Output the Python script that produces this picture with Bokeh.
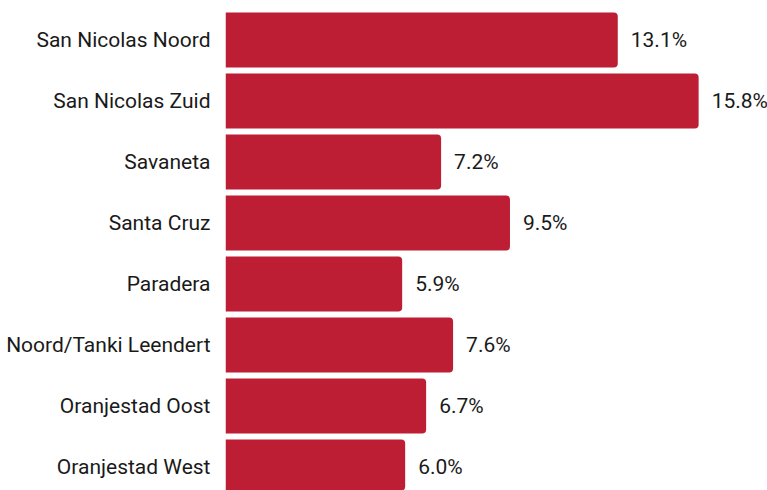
from bokeh.plotting import figure
from bokeh.models import Range1d, FixedTicker, ColumnDataSource, LabelSet
from bokeh.core.properties import value
from bokeh.embed import file_html
from bokeh.resources import INLINE

categories = ["San Nicolas Noord", "San Nicolas Zuid", "Savaneta", "Santa Cruz",
              "Paradera", "Noord/Tanki Leendert", "Oranjestad Oost", "Oranjestad West"]
values = [13.1, 15.8, 7.2, 9.5, 5.9, 7.6, 6.7, 6.0]
labels = [f"{v:.1f}%" for v in values]

n = len(categories)
ypos = [n - 1 - i for i in range(n)]
src = ColumnDataSource(dict(y=ypos, v=values, lab=labels, cat=categories))

FONT = "Roboto"
p = figure(width=767, height=490, output_backend="svg", toolbar_location=None,
           x_range=Range1d(0, 18.10), y_range=Range1d(-0.385, 7.648),
           min_border_left=225, min_border_right=0, min_border_top=0, min_border_bottom=0)
p.hbar(y="y", right="v", left=0, height=0.9, source=src, color="#BE1E33",
       line_color=None, border_radius=(0, 4, 4, 0))
p.add_layout(LabelSet(x="v", y="y", text="lab", source=src, x_offset=13,
                      text_baseline="middle", text_font=value(FONT), text_font_size="21px",
                      text_color="#1a1a1a"))

p.xaxis.visible = False
p.yaxis.ticker = FixedTicker(ticks=ypos)
p.yaxis.major_label_overrides = {y: c for y, c in zip(ypos, categories)}
p.yaxis.axis_line_color = None
p.yaxis.major_tick_line_color = None
p.yaxis.minor_tick_line_color = None
p.yaxis.major_tick_out = 0
p.yaxis.major_label_standoff = 15
p.yaxis.major_label_text_font = FONT
p.yaxis.major_label_text_font_size = "21px"
p.yaxis.major_label_text_color = "#1a1a1a"
p.xgrid.visible = False
p.ygrid.visible = False
p.outline_line_color = None

open("out.html", "w").write(file_html(p, INLINE))
